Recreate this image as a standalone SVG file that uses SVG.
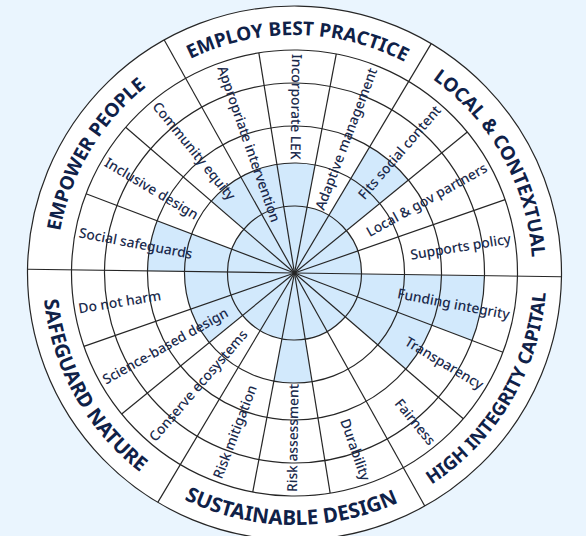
<svg xmlns="http://www.w3.org/2000/svg" width="586" height="536" viewBox="0 0 586 536">
<defs>
<style>
.ring{fill:none;stroke:#262626;stroke-width:1.2}
.spoke{stroke:#262626;stroke-width:1.2}
.shade{fill:#d2e9fc}
.item{font-family:"Noto Sans","Open Sans","DejaVu Sans",sans-serif;font-size:13.8px;font-weight:500;fill:#1a2a4c;dominant-baseline:central}
.r{text-anchor:end}
.l{text-anchor:start}
.cat{font-family:"Noto Sans","Open Sans","DejaVu Sans",sans-serif;font-size:19px;font-weight:700;fill:#0f2148;text-anchor:middle}
</style>
<path id="w2" d="M0,0 L-19.101,-108.329 A110,110 0 0 1 19.101,-108.329 Z"/>
<path id="w3" d="M0,0 L-25.526,-144.767 A147,147 0 0 1 25.526,-144.767 Z"/>
<path id="w4" d="M0,0 L-32.993,-187.114 A190,190 0 0 1 32.993,-187.114 Z"/>
<path id="arcTop" d="M-238,0 A238,238 0 0 1 238,0"/>
<path id="arcBot" d="M-252,0 A252,252 0 0 0 252,0"/>
</defs>
<rect width="586" height="536" fill="#eaf5fe"/>
<g transform="translate(294.5,273) rotate(0.8)">
  <circle r="267" fill="#ffffff"/>
  <g id="shading" class="shade">
    <circle r="67"/>
    <use href="#w2" transform="rotate(0)"/>
    <use href="#w2" transform="rotate(340)"/>
    <use href="#w2" transform="rotate(320)"/>
    <use href="#w2" transform="rotate(260)"/>
    <use href="#w2" transform="rotate(240)"/>
    <use href="#w2" transform="rotate(180)"/>
    <use href="#w3" transform="rotate(40)"/>
    <use href="#w3" transform="rotate(120)"/>
    <use href="#w3" transform="rotate(280)"/>
    <use href="#w4" transform="rotate(100)"/>
  </g>
  <g id="connectors">
    <g id="rings" class="ring">
      <circle r="67"/>
      <circle r="110"/>
      <circle r="147"/>
      <circle r="190"/>
      <circle r="223"/>
      <circle r="267"/>
    </g>
    <g id="spokes" class="spoke">
      <line x1="0" y1="0" x2="0" y2="-223" transform="rotate(10)"/>
      <line x1="0" y1="0" x2="0" y2="-267" transform="rotate(30)"/>
      <line x1="0" y1="0" x2="0" y2="-223" transform="rotate(50)"/>
      <line x1="0" y1="0" x2="0" y2="-223" transform="rotate(70)"/>
      <line x1="0" y1="0" x2="0" y2="-267" transform="rotate(90)"/>
      <line x1="0" y1="0" x2="0" y2="-223" transform="rotate(110)"/>
      <line x1="0" y1="0" x2="0" y2="-223" transform="rotate(130)"/>
      <line x1="0" y1="0" x2="0" y2="-267" transform="rotate(150)"/>
      <line x1="0" y1="0" x2="0" y2="-223" transform="rotate(170)"/>
      <line x1="0" y1="0" x2="0" y2="-223" transform="rotate(190)"/>
      <line x1="0" y1="0" x2="0" y2="-267" transform="rotate(210)"/>
      <line x1="0" y1="0" x2="0" y2="-223" transform="rotate(230)"/>
      <line x1="0" y1="0" x2="0" y2="-223" transform="rotate(250)"/>
      <line x1="0" y1="0" x2="0" y2="-267" transform="rotate(270)"/>
      <line x1="0" y1="0" x2="0" y2="-223" transform="rotate(290)"/>
      <line x1="0" y1="0" x2="0" y2="-223" transform="rotate(310)"/>
      <line x1="0" y1="0" x2="0" y2="-267" transform="rotate(330)"/>
      <line x1="0" y1="0" x2="0" y2="-223" transform="rotate(350)"/>
    </g>
  </g>
  <g id="employ-best-practice">
    <text class="cat"><textPath href="#arcTop" startOffset="50%">EMPLOY BEST PRACTICE</textPath></text>
    <text class="item l" transform="rotate(70)" x="-219">Appropriate intervention</text>
    <text class="item l" transform="rotate(90)" x="-219">Incorporate LEK</text>
    <text class="item r" transform="rotate(-70)" x="219">Adaptive management</text>
  </g>
  <g id="local-contextual">
    <text class="cat" transform="rotate(60)"><textPath href="#arcTop" startOffset="50%">LOCAL &amp; CONTEXTUAL</textPath></text>
    <text class="item r" transform="rotate(-50)" x="219">Fits social content</text>
    <text class="item r" transform="rotate(-30)" x="219">Local &amp; gov partners</text>
    <text class="item r" transform="rotate(-10)" x="219">Supports policy</text>
  </g>
  <g id="high-integrity-capital">
    <text class="cat" transform="rotate(-60)" style="font-size:18.4px"><textPath href="#arcBot" startOffset="50%">HIGH INTEGRITY CAPITAL</textPath></text>
    <text class="item r" transform="rotate(10)" x="219">Funding integrity</text>
    <text class="item r" transform="rotate(30)" x="219">Transparency</text>
    <text class="item r" transform="rotate(50)" x="219">Fairness</text>
  </g>
  <g id="sustainable-design">
    <text class="cat" style="font-size:20.6px"><textPath href="#arcBot" startOffset="50%">SUSTAINABLE DESIGN</textPath></text>
    <text class="item r" transform="rotate(70)" x="219">Durability</text>
    <text class="item l" transform="rotate(270)" x="-219">Risk assessment</text>
    <text class="item l" transform="rotate(290)" x="-219">Risk mitigation</text>
  </g>
  <g id="safeguard-nature">
    <text class="cat" transform="rotate(60)" style="font-size:20px"><textPath href="#arcBot" startOffset="50%">SAFEGUARD NATURE</textPath></text>
    <text class="item l" transform="rotate(310)" x="-219">Conserve ecosystems</text>
    <text class="item l" transform="rotate(330)" x="-219">Science-based design</text>
    <text class="item l" transform="rotate(350)" x="-219">Do not harm</text>
  </g>
  <g id="empower-people">
    <text class="cat" transform="rotate(-60)"><textPath href="#arcTop" startOffset="50%">EMPOWER PEOPLE</textPath></text>
    <text class="item l" transform="rotate(10)" x="-219">Social safeguards</text>
    <text class="item l" transform="rotate(30)" x="-219">Inclusive design</text>
    <text class="item l" transform="rotate(50)" x="-219">Community equity</text>
  </g>
</g>
</svg>
